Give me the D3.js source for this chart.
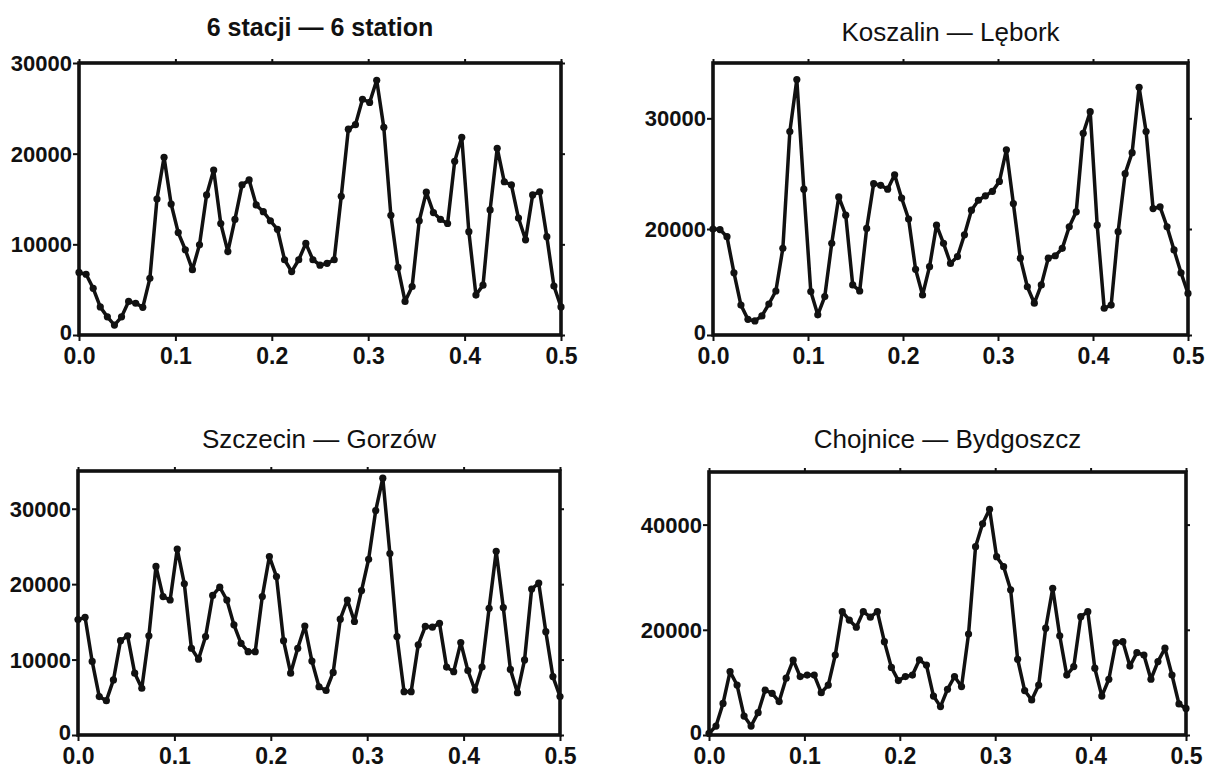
<!DOCTYPE html>
<html>
<head>
<meta charset="utf-8">
<script src="https://cdn.jsdelivr.net/npm/d3@7"></script>
<style>
  body { margin: 0; background: #fff; }
  svg text { font-family: "Liberation Sans", Arial, sans-serif; fill: #111; }
  .frame { fill: none; stroke: #111; stroke-width: 3.6; }
  .tick line { stroke: #111; stroke-width: 2; }
  .series { fill: none; stroke: #111; stroke-width: 3.5; stroke-linejoin: round; }
  .dot { fill: #111; }
</style>
</head>
<body>
<div id="chart"></div>
<script>
// periodogram values, one per frequency k/136, k = 0..68
var nFreq = 136;

var stations6 = [
  6900, 6700, 5150, 3100, 2000, 1100, 2000, 3700, 3500, 3050,
  6250, 15000, 19600, 14450, 11300, 9400, 7200, 9950, 15450, 18200,
  12300, 9200, 12750, 16550, 17100, 14350, 13600, 12600, 11650, 8300,
  7000, 8300, 10100, 8300, 7700, 7900, 8300, 15300, 22700, 23200,
  26000, 25650, 28100, 22900, 13200, 7450, 3700, 5350, 12600, 15750,
  13500, 12750, 12300, 19150, 21800, 11400, 4400, 5500, 13800, 20600,
  16900, 16550, 12900, 10500, 15450, 15800, 10850, 5400, 3100
];

var koszalinLebork = [
  20000, 19900, 18550, 11750, 5650, 2950, 2650, 3600, 5850, 8300,
  16350, 28800, 33500, 23600, 8200, 3800, 7250, 17300, 22900, 21250,
  9450, 8300, 20050, 24100, 23950, 23600, 24900, 22800, 20900, 12400,
  7550, 12900, 20350, 17300, 13500, 14800, 18900, 21700, 22600, 23000,
  23400, 24300, 27150, 22300, 14500, 9100, 6000, 9450, 14500, 14950,
  16350, 20200, 21550, 28650, 30600, 20350, 5050, 5650, 19500, 25000,
  26900, 32800, 28800, 21850, 22000, 20200, 16050, 11750, 7850
];

var szczecinGorzow = [
  15300, 15600, 9750, 5100, 4550, 7300, 12500, 13150, 8200, 6200,
  13150, 22350, 18350, 17900, 24650, 20050, 11500, 10050, 13050, 18500,
  19600, 17900, 14600, 12150, 11050, 11050, 18350, 23650, 21000, 12500,
  8200, 11500, 14450, 9800, 6400, 5900, 8300, 15350, 17900, 15050,
  19150, 23300, 29750, 34050, 24050, 13050, 5750, 5750, 11950, 14400,
  14300, 14800, 9000, 8400, 12250, 8550, 5950, 9000, 16800, 24350,
  16900, 8700, 5600, 9950, 19350, 20150, 13700, 7750, 5100
];

var chojniceBydgoszcz = [
  300, 1700, 6000, 12050, 9500, 3600, 1700, 4250, 8550, 7900,
  6350, 10800, 14250, 11100, 11400, 11400, 8050, 9500, 15200, 23450,
  21850, 20500, 23450, 22400, 23450, 17750, 12850, 10350, 11100, 11400,
  14300, 13300, 7400, 5400, 8700, 11100, 9200, 19200, 35800, 40150,
  42900, 33900, 32000, 27600, 14400, 8450, 6650, 9500, 20300, 27900,
  18850, 11400, 13000, 22500, 23450, 12700, 7400, 10600, 17550, 17750,
  13100, 15650, 15200, 10600, 13950, 16500, 11400, 5900, 5050
];

var titles = ['6 stacji \u2014 6 station', 'Koszalin \u2014 L\u0119bork', 'Szczecin \u2014 Gorz\u00f3w', 'Chojnice \u2014 Bydgoszcz'];
var xTicks = [0, 0.1, 0.2, 0.3, 0.4, 0.5];
var yTicks1 = [0, 10000, 20000, 30000];
var yTicks2 = [0, 20000, 30000];
var yTicks3 = [0, 10000, 20000, 30000];
var yTicks4 = [0, 20000, 40000];

var width = 1212, height = 768;

var svg = d3.select('#chart')
  .append('svg')
  .attr('width', width)
  .attr('height', height);

svg.append('rect').attr('width', width).attr('height', height).attr('fill', '#fff');

// plot boxes
var panels = [
  { title: titles[0], values: stations6, yTicks: yTicks1, bold: true, titleY: 36,
    left: 79, right: 561, top: 63, bottom: 335, yDomain: [0, 30000], yRange: [335, 63] },
  { title: titles[1], values: koszalinLebork, yTicks: yTicks2, titleY: 41,
    left: 713, right: 1188, top: 63, bottom: 335, yDomain: [0, 20000, 35000], yRange: [335, 229, 63] },
  { title: titles[2], values: szczecinGorzow, yTicks: yTicks3, titleY: 448,
    left: 78, right: 560, top: 471, bottom: 735, yDomain: [0, 35000], yRange: [735, 471] },
  { title: titles[3], values: chojniceBydgoszcz, yTicks: yTicks4, titleY: 448,
    left: 709, right: 1186, top: 472, bottom: 735, yDomain: [0, 50000], yRange: [735, 472] }
];

panels.forEach(function(p){
  var data = p.values.map(function(v, k){ return { f: k / nFreq, v: v }; });

  var x = d3.scaleLinear().domain([0, 0.5]).range([p.left, p.right]);
  var y = d3.scaleLinear().domain(p.yDomain).range(p.yRange);

  var g = svg.append('g');

  // title
  g.append('text')
    .attr('x', (p.left + p.right) / 2)
    .attr('y', p.titleY)
    .attr('text-anchor', 'middle')
    .style('font-size', p.bold ? '25px' : '26px')
    .style('font-weight', p.bold ? 'bold' : 'normal')
    .text(p.title);

  // mirrored small ticks on top and right
  g.append('g')
    .attr('transform', 'translate(0,' + p.top + ')')
    .call(d3.axisTop(x).tickValues(xTicks).tickSize(4).tickFormat(''))
    .select('.domain').remove();
  g.append('g')
    .attr('transform', 'translate(' + p.right + ',0)')
    .call(d3.axisRight(y).tickValues(p.yTicks).tickSize(4).tickFormat(''))
    .select('.domain').remove();

  // x axis
  var xa = g.append('g')
    .attr('transform', 'translate(0,' + p.bottom + ')')
    .call(d3.axisBottom(x).tickValues(xTicks).tickSize(6).tickPadding(9).tickFormat(d3.format('.1f')));
  xa.select('.domain').remove();
  xa.selectAll('text').style('font-size', '23px').style('font-weight', 'bold').attr('dy', '0.62em');

  // y axis
  var ya = g.append('g')
    .attr('transform', 'translate(' + p.left + ',0)')
    .call(d3.axisLeft(y).tickValues(p.yTicks).tickSize(6).tickPadding(1).tickFormat(d3.format('d')));
  ya.select('.domain').remove();
  ya.selectAll('text')
    .style('font-size', '22px')
    .style('font-weight', 'bold')
    .attr('dy', function(d){ return d === 0 ? '0.2em' : '0.34em'; });

  // box
  g.append('rect')
    .attr('class', 'frame')
    .attr('x', p.left)
    .attr('y', p.top)
    .attr('width', p.right - p.left)
    .attr('height', p.bottom - p.top);

  var line = d3.line()
    .x(function(d){ return x(d.f); })
    .y(function(d){ return y(d.v); });

  g.append('path')
    .datum(data)
    .attr('class', 'series')
    .attr('d', line);

  g.selectAll('.dot')
    .data(data)
    .enter()
    .append('circle')
    .attr('class', 'dot')
    .attr('cx', function(d){ return x(d.f); })
    .attr('cy', function(d){ return y(d.v); })
    .attr('r', 3.6);
});
</script>
</body>
</html>
